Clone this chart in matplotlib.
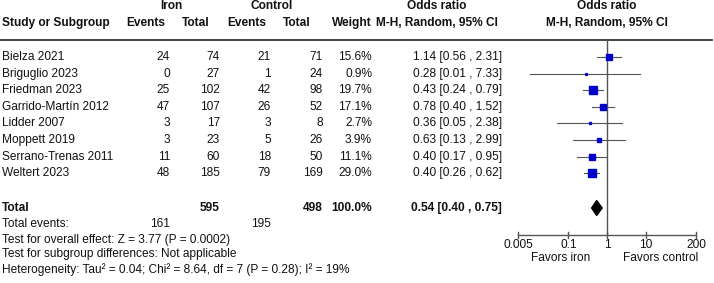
import matplotlib
matplotlib.use('Agg')
import matplotlib.pyplot as plt

plt.rcParams['font.family'] = ['Liberation Sans', 'DejaVu Sans']
FS = 8.6

# data
studies = ["Bielza 2021", "Briguglio 2023", "Friedman 2023", "Garrido-Martín 2012",
           "Lidder 2007", "Moppett 2019", "Serrano-Trenas 2011", "Weltert 2023"]
iron_events = [24, 0, 25, 47, 3, 3, 11, 48]
iron_total = [74, 27, 102, 107, 17, 23, 60, 185]
ctrl_events = [21, 1, 42, 26, 3, 5, 18, 79]
ctrl_total = [71, 24, 98, 52, 8, 26, 50, 169]
weights = [15.6, 0.9, 19.7, 17.1, 2.7, 3.9, 11.1, 29.0]
or_est = [1.14, 0.28, 0.43, 0.78, 0.36, 0.63, 0.40, 0.40]
ci_lo = [0.56, 0.01, 0.24, 0.40, 0.05, 0.13, 0.17, 0.26]
ci_hi = [2.31, 7.33, 0.79, 1.52, 2.38, 2.99, 0.95, 0.62]

tot_iron, tot_ctrl = 595, 498
tot_ev_iron, tot_ev_ctrl = 161, 195
pooled = (0.54, 0.40, 0.75)
xticks = [0.005, 0.1, 1, 10, 200]
xtick_labels = ["0.005", "0.1", "1", "10", "200"]
footer = ["Test for overall effect: Z = 3.77 (P = 0.0002)",
          "Test for subgroup differences: Not applicable",
          "Heterogeneity: Tau² = 0.04; Chi² = 8.64, df = 7 (P = 0.28); I² = 19%"]

W, H = 714, 283
fig = plt.figure(figsize=(W / 100, H / 100), dpi=100)
ax = fig.add_axes([0, 0, 1, 1])
ax.set_xlim(0, W)
ax.set_ylim(H, 0)
ax.axis('off')

# forest panel, log scale
fx0, fx1 = 518, 696
axf = fig.add_axes([fx0 / W, 0, (fx1 - fx0) / W, 1])
axf.set_xscale('log')
axf.set_xlim(0.005, 200)
axf.set_ylim(H, 0)
axf.axis('off')

# column positions (right edges)
c_ie, c_it, c_ce, c_ct, c_w, c_or = 170, 220, 271, 323, 372, 502

def txt(x, y, s, ha='right', bold=False):
    ax.text(x, y, s, ha=ha, va='center', fontsize=FS,
            fontweight='bold' if bold else 'normal', color='#111111')

# headers
y_h1, y_h2 = 6, 23
txt(171, y_h1, "Iron", ha='center', bold=True)
txt(272, y_h1, "Control", ha='center', bold=True)
txt(437, y_h1, "Odds ratio", ha='center', bold=True)
txt(607, y_h1, "Odds ratio", ha='center', bold=True)
txt(2, y_h2, "Study or Subgroup", ha='left', bold=True)
txt(146, y_h2, "Events", ha='center', bold=True)
txt(196, y_h2, "Total", ha='center', bold=True)
txt(247, y_h2, "Events", ha='center', bold=True)
txt(297, y_h2, "Total", ha='center', bold=True)
txt(352, y_h2, "Weight", ha='center', bold=True)
txt(437, y_h2, "M-H, Random, 95% CI", ha='center', bold=True)
txt(607, y_h2, "M-H, Random, 95% CI", ha='center', bold=True)

ax.plot([0, 712], [40, 40], color='#333333', lw=1.3)

# study rows
y0, dy = 57, 16.6
for i, name in enumerate(studies):
    y = y0 + i * dy
    txt(2, y, name, ha='left')
    txt(c_ie, y, str(iron_events[i]))
    txt(c_it, y, str(iron_total[i]))
    txt(c_ce, y, str(ctrl_events[i]))
    txt(c_ct, y, str(ctrl_total[i]))
    txt(c_w, y, f"{weights[i]:.1f}%")
    txt(c_or, y, f"{or_est[i]:.2f} [{ci_lo[i]:.2f} , {ci_hi[i]:.2f}]")
    axf.plot([ci_lo[i], ci_hi[i]], [y, y], color='#555555', lw=0.8, zorder=2)
    side_px = 1.65 * weights[i] ** 0.5
    axf.plot(or_est[i], y, marker='s', ms=max(side_px, 1.8) * 0.72,
             color='#0000cc', mec='#0000cc', zorder=3)

# totals
y_tot = 208
txt(2, y_tot, "Total", ha='left', bold=True)
txt(c_it, y_tot, str(tot_iron), bold=True)
txt(c_ct, y_tot, str(tot_ctrl), bold=True)
txt(c_w, y_tot, "100.0%", bold=True)
txt(c_or, y_tot, f"{pooled[0]:.2f} [{pooled[1]:.2f} , {pooled[2]:.2f}]", bold=True)
axf.fill([pooled[1], pooled[0], pooled[2], pooled[0]],
         [y_tot, y_tot - 7.5, y_tot, y_tot + 7.5], color='black', zorder=3)

y_ev = 224
txt(2, y_ev, "Total events:", ha='left')
txt(c_ie, y_ev, str(tot_ev_iron))
txt(c_ce, y_ev, str(tot_ev_ctrl))

for k, line in enumerate(footer):
    txt(2, 239.5 + k * 15, line, ha='left')

# null line and x axis
y_ax = 235
axf.plot([1, 1], [40, y_ax], color='#555555', lw=1.0, zorder=1)
axf.plot([xticks[0], xticks[-1]], [y_ax, y_ax], color='#555555', lw=1.0, clip_on=False)
for t, lab in zip(xticks, xtick_labels):
    axf.plot([t, t], [y_ax - 3, y_ax + 2.5], color='#555555', lw=1.0, clip_on=False)
    axf.text(t, 244.5, lab, ha='center', va='center', fontsize=FS, color='#111111')
axf.text(0.062, 258, "Favors iron", ha='center', va='center', fontsize=FS, color='#111111')
axf.text(24, 258, "Favors control", ha='center', va='center', fontsize=FS, color='#111111')

fig.savefig('out.png', dpi=100)
